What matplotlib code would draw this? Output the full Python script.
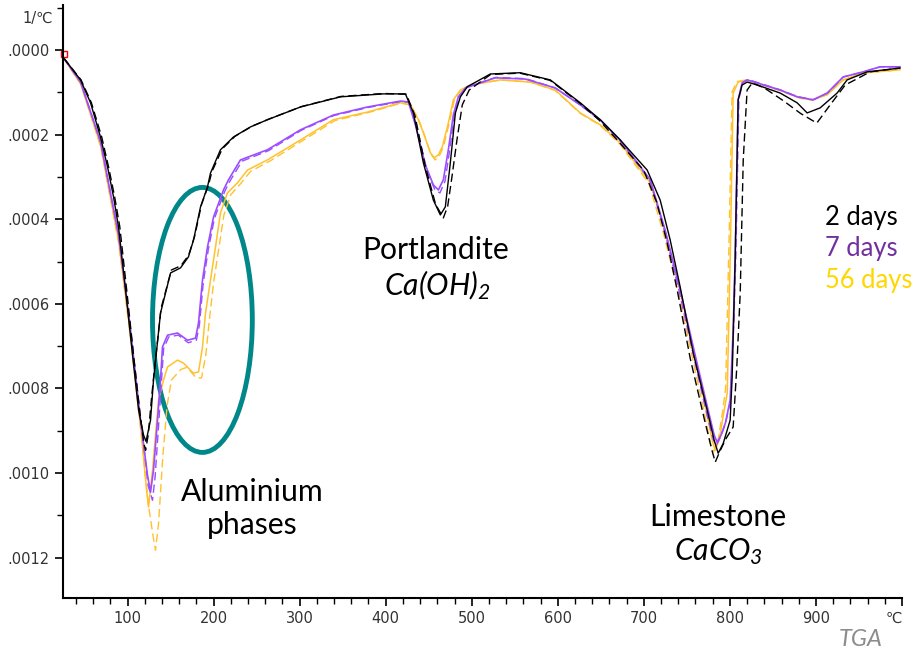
import numpy as np
import matplotlib
matplotlib.use("Agg")
import matplotlib.pyplot as plt
from matplotlib.patches import Ellipse
from matplotlib.ticker import MultipleLocator, FuncFormatter

plt.rcParams['mathtext.fontset'] = 'custom'
plt.rcParams['mathtext.it'] = 'Lato:italic'
plt.rcParams['mathtext.rm'] = 'Lato:italic'

# DTG curves, temperature in degC, rate in 1e-4 /degC (positive = mass loss, plotted downwards)
t_2d = [25.7, 45.4, 57, 68.6, 76.8, 83.7, 89.5, 97.7, 105.8, 112.8, 118.6, 121.5, 126.7, 130.2,
        138.3, 150, 161.6, 170.8, 176.7, 184.8, 192.9, 196.4, 208, 223, 242.9, 262.6, 300.9,
        347.4, 397.3, 422.9, 432.2, 443.8, 455.4, 463.5, 469.3, 475.1, 481, 486.8, 494.9,
        521.6, 556.4, 591.3, 626.1, 649.3, 672.6, 703.9, 719, 730.6, 742.2, 757.4, 773.6,
        781.7, 786.4, 792.2, 800.3, 802.6, 806.1, 809.6, 814.2, 820.1, 831.7, 858.4, 878.1,
        889.8, 904.9, 924.6, 936.2, 959.4, 997.7]
v_2d = [0.19, 0.71, 1.25, 2.06, 2.77, 3.47, 4.18, 5.67, 7.21, 8.51, 9.10, 9.25, 8.75, 7.80,
        6.22, 5.27, 5.15, 4.89, 4.49, 3.71, 3.24, 2.91, 2.36, 2.06, 1.82, 1.65, 1.35,
        1.11, 1.04, 1.04, 1.49, 2.67, 3.55, 3.90, 3.71, 2.67, 1.49, 1.11, 0.87,
        0.57, 0.54, 0.71, 1.25, 1.65, 2.13, 2.84, 3.55, 4.49, 5.60, 7.16, 8.51,
        9.22, 9.53, 9.30, 8.75, 7.73, 4.96, 1.18, 0.83, 0.76, 0.83, 1.02, 1.25,
        1.49, 1.37, 1.02, 0.71, 0.52, 0.43]

t_2d_b = [25.7, 46, 58, 70, 78, 85, 91, 99, 107, 114, 119, 121, 124, 128, 131, 139, 151, 162,
          171, 178, 186, 194, 198, 210, 225, 245, 265, 302, 348, 398, 424, 434, 446, 458, 467,
          472, 477, 483, 489, 497, 522, 556, 591, 625, 648, 670, 700, 715, 727, 739, 754, 770,
          779, 783, 788, 795, 803.8, 808, 812, 815.5, 820, 826, 840, 862, 882, 901, 916.5,
          934, 963, 997.7]
v_2d_b = [0.19, 0.71, 1.25, 2.06, 2.77, 3.47, 4.18, 5.67, 7.21, 8.51, 9.30, 9.46, 9.10, 8.20,
          7.60, 6.10, 5.20, 5.10, 4.85, 4.40, 3.65, 3.20, 2.88, 2.34, 2.04, 1.80, 1.63, 1.34,
          1.10, 1.03, 1.05, 1.55, 2.75, 3.65, 3.97, 3.70, 3.00, 2.10, 1.30, 0.95, 0.58, 0.55,
          0.72, 1.25, 1.66, 2.15, 2.85, 3.60, 4.55, 5.70, 7.30, 8.70, 9.45, 9.74, 9.50, 9.20,
          8.91, 7.50, 5.74, 2.60, 0.95, 0.78, 0.90, 1.20, 1.50, 1.73, 1.30, 0.83, 0.52, 0.43]

t_7d = [25.7, 45.4, 68.6, 89.5, 103.5, 115.1, 123.2, 126.7, 130.2, 134.8, 138.3, 140.6, 146.5,
        158.1, 169.7, 179, 182.5, 187.1, 192.9, 199.9, 211.5, 217.3, 231.2, 262.6, 300.9, 339.2,
        378.7, 417.1, 426.4, 434.5, 446.1, 455.4, 461.2, 467, 472.8, 478.6, 484.4, 492.6, 527.4,
        562.2, 597.1, 626.1, 649.3, 672.6, 707.4, 724.8, 742.2, 759.6, 774.7, 781.7, 785.2,
        789.8, 795, 800.3, 803.8, 806.1, 809.6, 814.2, 820.1, 858.4, 878.1, 896.7, 913, 931.6,
        954.8, 974.5, 997.7]
v_7d = [0.19, 0.76, 2.17, 4.37, 6.62, 8.75, 10.05, 10.45, 9.93, 8.75, 7.80, 7.02, 6.74,
        6.69, 6.86, 6.81, 6.45, 5.44, 4.66, 3.95, 3.31, 3.07, 2.60, 2.36, 1.89, 1.54,
        1.35, 1.21, 1.23, 1.77, 2.72, 3.19, 3.31, 3.07, 2.36, 1.54, 1.11, 0.90, 0.66,
        0.69, 0.90, 1.30, 1.65, 2.13, 3.07, 4.26, 5.67, 7.21, 8.51, 9.10, 9.27,
        9.10, 8.80, 8.27, 6.62, 4.96, 1.18, 0.78, 0.71, 0.95, 1.11, 1.18, 1.02, 0.64,
        0.52, 0.40, 0.40]

t_7d_b = [25.7, 46, 69, 90, 104, 116, 124, 129, 132, 136, 139.5, 142, 148, 159, 170.5, 180,
          183.5, 188, 194, 201, 213, 219, 233, 264, 302, 340, 380, 418, 427, 436, 448, 457, 463,
          469, 474.5, 480, 486, 494, 528, 563, 597, 626, 649, 672, 707, 724, 741, 758, 773,
          780.5, 784, 789, 794.5, 800.8, 804.5, 807, 810.5, 815, 821, 858, 878, 897, 913.5,
          932, 955, 975, 997.7]
v_7d_b = [0.19, 0.78, 2.2, 4.4, 6.7, 8.85, 10.3, 10.64, 10.1, 8.9, 7.8, 7.05, 6.78, 6.74,
          6.92, 6.86, 6.5, 5.5, 4.7, 3.98, 3.34, 3.1, 2.63, 2.38, 1.9, 1.55, 1.36, 1.22, 1.24,
          1.85, 2.85, 3.30, 3.38, 3.10, 2.35, 1.50, 1.08, 0.88, 0.65, 0.68, 0.90, 1.30, 1.66,
          2.14, 3.08, 4.28, 5.70, 7.25, 8.60, 9.20, 9.35, 9.15, 8.85, 8.30, 6.50, 4.80, 1.15,
          0.77, 0.70, 0.94, 1.10, 1.18, 1.02, 0.64, 0.52, 0.40, 0.40]

t_56d = [25.7, 45.4, 68.6, 89.5, 103.5, 115.1, 122.1, 124.4, 129, 136, 141.8, 146.5, 158.1,
         165, 176.7, 182.5, 187.1, 190.6, 196.4, 202.2, 208, 216.1, 227.8, 239.4, 262.6,
         300.9, 339.2, 378.7, 417.1, 428.7, 438, 443.8, 451.9, 456.5, 461.2, 465.8, 472.8,
         478.6, 486.8, 498.4, 533.2, 568, 597.1, 626.1, 649.3, 672.6, 707.4, 724.8, 742.2,
         757.4, 771.3, 779.4, 782.9, 787.5, 793.4, 796.9, 800.3, 803.8, 809.6, 820.1, 858.4,
         881.6, 895.5, 913, 931.6, 954.8, 997.7]
v_56d = [0.19, 0.80, 2.25, 4.49, 6.74, 8.87, 10.40, 10.80, 9.93, 8.27, 7.80, 7.49, 7.33,
         7.40, 7.64, 7.61, 7.02, 6.22, 5.44, 4.66, 3.85, 3.38, 3.14, 2.84, 2.60,
         2.13, 1.65, 1.47, 1.25, 1.30, 1.65, 1.96, 2.43, 2.55, 2.48, 2.29, 1.73,
         1.18, 0.95, 0.83, 0.71, 0.76, 0.95, 1.49, 1.77, 2.20, 3.14, 4.30, 5.67,
         7.09, 8.39, 9.22, 9.46, 9.22, 8.51, 8.11, 4.96, 1.02, 0.76, 0.71, 0.95,
         1.13, 1.18, 1.06, 0.71, 0.54, 0.47]

t_56d_b = [25.7, 46, 69, 90, 104, 116, 124, 129, 132.5, 136, 141, 146, 151, 162, 169, 180, 186,
           191, 195, 200, 206, 212, 220, 231, 243, 266, 303, 341, 380, 418, 429, 438.5, 444.5,
           452.5, 457.5, 462, 467, 474, 480, 488, 500, 534, 568, 597, 626, 649, 672, 706, 723,
           740, 755, 769, 777.5, 781, 786, 791.5, 795, 799, 802.5, 808, 819, 858, 881, 895,
           913, 931, 955, 997.7]
v_56d_b = [0.19, 0.82, 2.3, 4.6, 6.9, 9.1, 10.7, 11.4, 11.82, 11.2, 9.6, 8.4, 7.8, 7.55, 7.5,
           7.75, 7.75, 7.2, 6.4, 5.5, 4.7, 3.9, 3.42, 3.17, 2.87, 2.62, 2.15, 1.67, 1.48, 1.26,
           1.30, 1.66, 1.98, 2.46, 2.60, 2.52, 2.30, 1.72, 1.16, 0.94, 0.82, 0.71, 0.76, 0.96,
           1.50, 1.78, 2.22, 3.16, 4.35, 5.72, 7.14, 8.45, 9.30, 9.50, 9.25, 8.55, 8.0, 4.5,
           1.0, 0.75, 0.71, 0.96, 1.14, 1.19, 1.06, 0.72, 0.55, 0.47]

x_ticks = [100, 200, 300, 400, 500, 600, 700, 800, 900, 1000]
x_labels = ['100', '200', '300', '400', '500', '600', '700', '800', '900', '\u2103']

c_black = 'black'
c_purple = '#9B4DFF'
c_yellow = '#FFC12E'
dash = (0, (6, 3))

fig = plt.figure(figsize=(9.14, 6.53), dpi=100)
ax = fig.add_axes([63/914, 1-598/653, (902-63)/914, (598-5)/653])

sc = 1e-4
ax.plot(t_56d_b, np.array(v_56d_b)*sc, color=c_yellow, lw=1.0, ls=dash)
ax.plot(t_56d, np.array(v_56d)*sc, color=c_yellow, lw=1.1)
ax.plot(t_7d_b, np.array(v_7d_b)*sc, color=c_purple, lw=1.0, ls=dash)
ax.plot(t_7d, np.array(v_7d)*sc, color=c_purple, lw=1.2)
ax.plot(t_2d_b, np.array(v_2d_b)*sc, color=c_black, lw=1.0, ls=dash)
ax.plot(t_2d, np.array(v_2d)*sc, color=c_black, lw=1.0)
ax.plot([25.7], [0.1*sc], marker='s', ms=5, mfc='none', mec='red', mew=1, clip_on=False)

ax.set_xlim(25, 1000)
ax.set_ylim(12.95*sc, -1.06*sc)

ax.set_xticks(x_ticks)
ax.set_xticklabels(x_labels)
ax.xaxis.set_minor_locator(MultipleLocator(20))
ax.set_yticks(np.arange(0, 13, 2)*sc)
ax.yaxis.set_minor_locator(MultipleLocator(1*sc))
ax.yaxis.set_major_formatter(FuncFormatter(lambda y, p: f"{y:.4f}".replace('0.', '.', 1)))

for s in ['top', 'right']:
    ax.spines[s].set_visible(False)
for s in ['left', 'bottom']:
    ax.spines[s].set_linewidth(1.5)
ax.tick_params(which='major', length=6, width=1.2, labelsize=10.5, labelcolor='#333333', direction='out')
ax.tick_params(which='minor', length=4, width=1.0, direction='out')
ax.get_xticklabels()[-1].set_ha('right')

ax.add_patch(Ellipse((187, 6.38*sc), 116, 6.26*sc, fill=False, ec='#00878A', lw=3.5))

lato = 'Lato'
fs = 21.7
ax.text(245, 10.45*sc, 'Aluminium', fontsize=fs, family=lato, ha='center', va='center')
ax.text(245, 11.22*sc, 'phases', fontsize=fs, family=lato, ha='center', va='center')
ax.text(458, 4.73*sc, 'Portlandite', fontsize=fs, family=lato, ha='center', va='center')
ax.text(460, 5.55*sc, r'$Ca(OH)_2$', fontsize=fs, ha='center', va='center')
ax.text(786, 11.04*sc, 'Limestone', fontsize=fs, family=lato, ha='center', va='center')
ax.text(786, 11.85*sc, r'$CaCO_3$', fontsize=fs, ha='center', va='center')

ax.text(910, 3.95*sc, '2 days', fontsize=18.4, family=lato, color='black', va='center')
ax.text(910, 4.70*sc, '7 days', fontsize=18.4, family=lato, color='#7030A0', va='center')
ax.text(910, 5.46*sc, '56 days', fontsize=18.4, family=lato, color='#FFD700', va='center')

fig.text(38/914, 1-18/653, '1/\u2103', fontsize=10.5, color='#333333', ha='center', va='center')
fig.text(861/914, 1-640/653, 'TGA', fontsize=17, family=lato, style='italic', color='#8C8C8C',
         ha='center', va='center')

fig.savefig('out.png', dpi=100)
